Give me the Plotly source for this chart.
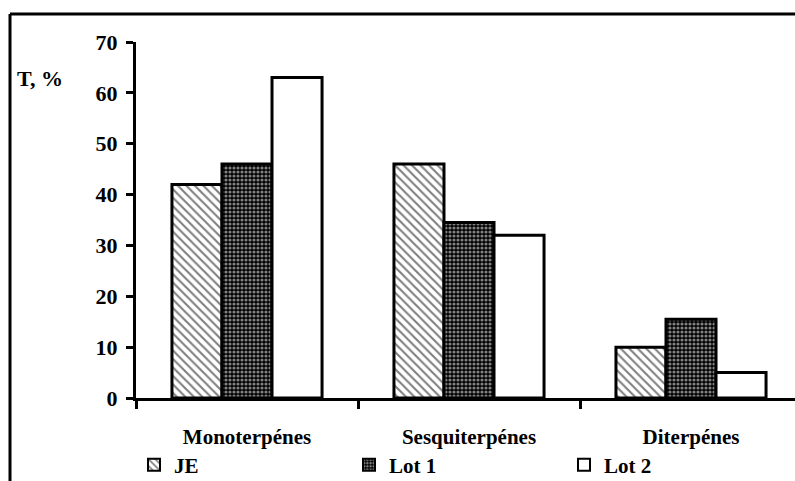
import plotly.graph_objects as go

categories = ["Monoterpénes", "Sesquiterpénes", "Diterpénes"]
je = [42, 46, 10]
lot1 = [46, 34.5, 15.5]
lot2 = [63, 32, 5]
series_names = ["JE", "Lot 1", "Lot 2"]

FONT = "Liberation Serif"

fig = go.Figure()
fig.add_trace(go.Bar(
    x=categories, y=je, name=series_names[0],
    marker=dict(color="white", line=dict(color="black", width=3),
                pattern=dict(shape="\\", fgcolor="black", bgcolor="white", size=6, solidity=0.35)),
))
fig.add_trace(go.Bar(
    x=categories, y=lot1, name=series_names[1],
    marker=dict(color="black", line=dict(color="black", width=3),
                pattern=dict(shape=".", fgcolor="white", bgcolor="black", size=4, solidity=0.5)),
))
fig.add_trace(go.Bar(
    x=categories, y=lot2, name=series_names[2],
    marker=dict(color="white", line=dict(color="black", width=3)),
))

W, H = 795, 481
L, R, T, B = 136, 0, 42, 83
pw = W - L - R
ph = H - T - B

def px_x(x):
    return (x - L) / pw

def px_y(y):
    return (H - B - y) / ph

fig.update_layout(
    width=W, height=H,
    margin=dict(l=L, r=R, t=T, b=B, pad=0, autoexpand=False),
    paper_bgcolor="white", plot_bgcolor="white",
    font=dict(family=FONT, size=21, color="black", weight="bold"),
    barmode="group", bargap=0.324, bargroupgap=0,
    showlegend=True,
    legend=dict(orientation="h", xref="container", yref="container",
                x=134 / W, xanchor="left", y=1 - 465 / H, yanchor="middle",
                entrywidth=170, entrywidthmode="pixels", font=dict(size=21, family=FONT, weight="bold"),
                bgcolor="rgba(0,0,0,0)", itemsizing="constant", traceorder="normal",
                itemwidth=30, tracegroupgap=0),
    xaxis=dict(range=[-0.5, -0.5 + pw / 222], showline=True, linecolor="black", linewidth=3,
               ticks="outside", ticklen=8, tickwidth=3, tickcolor="black", tickson="boundaries",
               tickfont=dict(size=21, family=FONT, weight="bold"), showgrid=False,
               ticklabelstandoff=18, automargin=False),
    yaxis=dict(range=[0, 70], dtick=10, showline=True, linecolor="black", linewidth=3,
               ticks="outside", ticklen=7, tickwidth=3, tickcolor="black",
               tickfont=dict(size=22, family=FONT, weight="bold"), showgrid=False, zeroline=False,
               ticklabelstandoff=4, automargin=False),
    annotations=[dict(text="T, %", xref="paper", yref="paper", x=px_x(15), y=px_y(78),
                      xanchor="left", yanchor="middle", showarrow=False,
                      font=dict(size=22, family=FONT, weight="bold"))],
    shapes=[
        dict(type="line", xref="paper", yref="paper", x0=px_x(10), x1=px_x(10), y0=px_y(14), y1=px_y(490),
             line=dict(color="black", width=3)),
        dict(type="line", xref="paper", yref="paper", x0=px_x(10), x1=px_x(800), y0=px_y(14), y1=px_y(14),
             line=dict(color="black", width=3)),
    ],
)

fig.write_html("out.html")
